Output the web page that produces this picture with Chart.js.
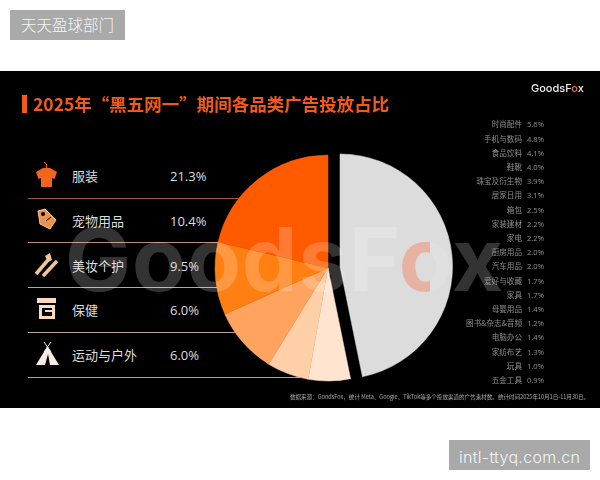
<!DOCTYPE html>
<html>
<head>
<meta charset="utf-8">
<script src="https://cdn.jsdelivr.net/npm/chart.js@4"></script>
<style>
    html, body { margin: 0; padding: 0; background: #fff; }
    body { position: relative; width: 600px; height: 480px; overflow: hidden; font-family: "Noto Sans CJK SC", sans-serif; }
    .abs { position: absolute; white-space: nowrap; line-height: 1; }
    #panel { position: absolute; left: 0; top: 71px; width: 600px; height: 337px; background: #000; }
    #pieWrap { position: absolute; left: 200px; top: 140px; width: 256px; height: 256px; }
    .badge { position: absolute; background: #a9a9a9; color: #f4f4f4; }
    .rule { position: absolute; left: 28px; height: 1px; }
    .icon { position: absolute; }
    #foxO { background: linear-gradient(90deg, rgba(255,90,40,.32) 58%, rgba(255,255,255,.12) 58%); -webkit-background-clip: text; background-clip: text; color: transparent; }
</style>
</head>
<body>
<div class="badge" style="left:10px;top:10px;width:115px;height:30px"></div>
<div class="abs" style="left:21px;top:17px;font-size:15.5px;color:#f4f4f4;font-weight:300">天天盈球部门</div>
<div class="badge" style="left:449px;top:440px;width:141px;height:30px"></div>
<div class="abs" style="left:459px;top:447px;font:300 16px Inter;letter-spacing:.3px;color:#f4f4f4">intl-ttyq.com.cn</div>

<div id="panel"></div>
<div id="rows"></div>
<div id="pieWrap"><canvas id="pieCanvas" width="256" height="256"></canvas></div>

<div class="abs" style="left:65px;top:209px;font:700 88px/100px Inter;letter-spacing:1px;color:rgba(255,255,255,.2)">GoodsF<span id="foxO">o</span>x</div>

<div class="abs" style="left:22px;top:95px;width:5px;height:18px;background:#f2591a"></div>
<div class="abs" style="left:33px;top:95px;font-size:17.5px;line-height:18px;font-weight:700;color:#f2591a">2025年“黑五网一”期间各品类广告投放占比</div>
<div class="abs" style="left:531px;top:82px;font:500 11px/12px Inter;color:#eee">GoodsF<span style="color:#f0704a">o</span>x</div>
<div id="sideList"></div>
<div class="abs" style="left:290px;top:393px;font-size:5.55px;line-height:8px;color:#aaa">数据来源：GoodsFox，统计 Meta、Google、TikTok等多个投放渠道的广告素材数。统计时间2025年10月1日-11月30日。</div>

<svg class="icon" style="left:30px;top:160px" width="600" height="220" viewBox="0 0 600 220">
    <!-- shirt -->
    <path d="M6 12 L13 8 H20 L27 12 L24.5 19 L22 18 V27 H11 V18 L8.5 19 Z" fill="#f2651e"/>
    <path d="M16.5 8 V4 L14 2" stroke="#f2651e" fill="none"/>
    <!-- tag -->
    <path d="M8 51 L15 49 L26 60 L20 69 L10 64 Z" fill="#e8944f" stroke="#f4c49a"/>
    <circle cx="13" cy="54" r="2" fill="#000"/>
    <path d="M16 61 L21 57" stroke="#000"/>
    <!-- cosmetics -->
    <path d="M6 114 L18 100" stroke="#f4c49a" stroke-width="3.5"/>
    <path d="M13 116 L27 101" stroke="#f4c49a" stroke-width="3.5"/>
    <path d="M15 96 L20 93 L22 100 L18 102 Z" fill="#f4c49a"/>
    <!-- box -->
    <rect x="7" y="138" width="19" height="5" fill="#fbd9bd"/>
    <path d="M9 145 H25 V159 H9 Z M12 148 V156 H22 V152 H15 V150 H22 V148 Z" fill="#fbd9bd" fill-rule="evenodd"/>
    <!-- tent -->
    <path d="M17.5 186 L29 205 H6 Z" fill="#f7ebe2"/>
    <path d="M14 182 L21 192 M21 182 L14 192" stroke="#f7ebe2"/>
    <path d="M18 194 L15 205 H20 Z" fill="#000"/>
</svg>

<script>
// left table, top to bottom
const mainCategories = ["服装", "宠物用品", "美妆个护", "保健", "运动与户外"];
const mainShares = [21.3, 10.4, 9.5, 6.0, 6.0];
// right hand list, the grey slice
const otherCategories = ["时尚配件", "手机与数码", "食品饮料", "鞋靴", "珠宝及衍生物", "居家日用", "箱包", "家装建材", "家电", "厨房用品", "汽车用品", "爱好与收藏", "家具", "母婴用品", "图书&杂志&音频", "电脑办公", "家纺布艺", "玩具", "五金工具"];
const otherShares = [5.6, 4.8, 4.1, 4.0, 3.9, 3.1, 2.5, 2.2, 2.2, 2.0, 2.0, 1.7, 1.7, 1.4, 1.2, 1.4, 1.3, 1.0, 0.9];
const otherTotal = 46.8;

const sliceColors = ["#dcdcdc", "#ffe5cf", "#ffcfa8", "#ffa45e", "#ff7f12", "#ff5a00"];
const ruleColors = ["#a85a35", "#c08a6c", "#c4a28e", "#b8a498", "#a8a5a3"];
const ruleWidths = [300, 300, 300, 300, 272];

// rows of the left table
let rows = document.getElementById("rows");
mainCategories.forEach(function (name, i) {
    let y = 176 + i * 44.8;
    rows.innerHTML +=
        '<div class="rule" style="top:' + Math.round(y + 21.5) + 'px;width:' + ruleWidths[i] + 'px;background:' + ruleColors[i] + '"></div>' +
        '<div class="abs" style="left:72px;top:' + (y - 7) + 'px;font-size:13px;line-height:14px;color:#ddd">' + name + '</div>' +
        '<div class="abs" style="left:170px;top:' + (y - 7) + 'px;font:13px/14px \'Open Sans\';color:#ddd">' + mainShares[i].toFixed(1) + '%</div>';
});

// right hand list
let sideList = document.getElementById("sideList");
otherCategories.forEach(function (name, i) {
    let y = 124.3 + i * 14.2;
    sideList.innerHTML +=
        '<div class="abs" style="right:78px;top:' + (y - 4) + 'px;font-size:7.6px;line-height:8px;color:#8f8f8f">' + name + '</div>' +
        '<div class="abs" style="left:527px;top:' + (y - 4) + 'px;font:7.6px/8px \'Open Sans\';color:#8f8f8f">' + otherShares[i].toFixed(1) + '%</div>';
});

// grey slice first, then the five big ones running clockwise back to the top
let pieLabels = ["其他"].concat(mainCategories.slice().reverse());
let pieValues = [otherTotal].concat(mainShares.slice().reverse());

// the offset option also grows the arc, so pull the grey one out by hand
const pullGreySlice = {
    id: "pullGreySlice",
    afterDatasetsUpdate(chart) {
        let arc = chart.getDatasetMeta(0).data[0];
        arc.x += 12;
        arc.y -= 1.5;
        arc.outerRadius -= 0.5;
    }
};

let pieChart = new Chart(document.getElementById("pieCanvas"), {
    type: "pie",
    data: {
        labels: pieLabels,
        datasets: [{
            data: pieValues,
            backgroundColor: sliceColors,
            borderColor: sliceColors,
            borderWidth: 0.5,
            radius: 113
        }]
    },
    options: {
        responsive: false,
        animation: false,
        plugins: {
            legend: { display: false },
            tooltip: { enabled: false }
        }
    },
    plugins: [pullGreySlice]
});
</script>
</body>
</html>
